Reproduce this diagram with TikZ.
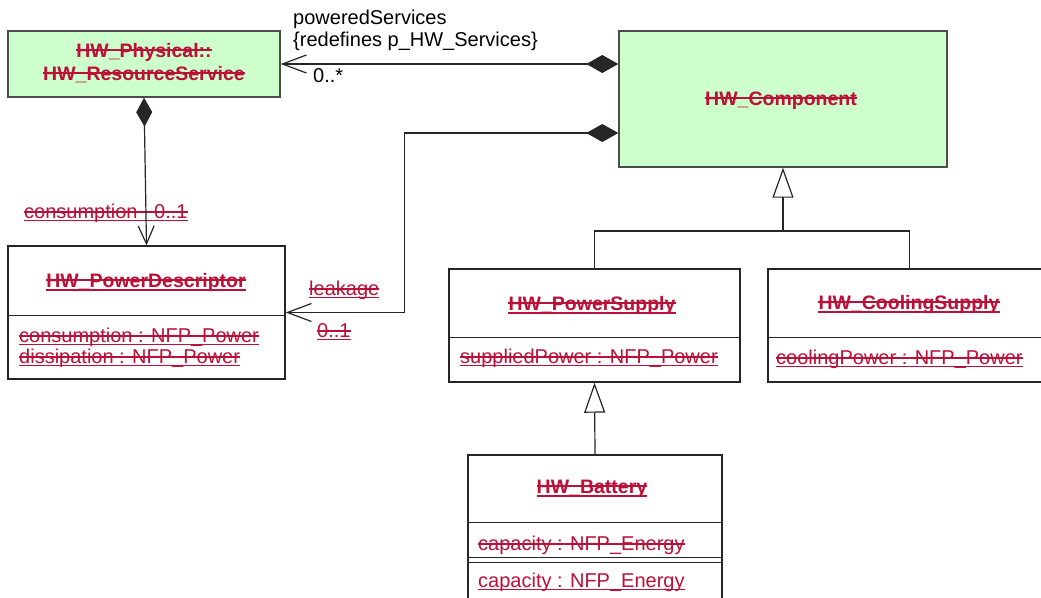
\documentclass[tikz,border=0pt]{standalone}
\usepackage{fontspec}
\setmainfont{Liberation Sans}
\usetikzlibrary{arrows.meta,calc}
\definecolor{rd}{RGB}{187,16,55}
\definecolor{boxgreen}{RGB}{204,255,204}
\tikzset{
  umlbox/.style={draw=black!85, line width=1.4pt, fill=white, inner sep=0pt},
  gbox/.style={umlbox, fill=boxgreen, draw=black!70},
  divl/.style={draw=black!85, line width=1.4pt},
  nm/.style={font=\fontsize{19.5}{22}\selectfont\bfseries, text=rd, inner sep=0pt, anchor=base},
  attr/.style={font=\fontsize{20}{22}\selectfont, text=rd, inner sep=0pt, anchor=base west},
  lbl/.style={font=\fontsize{20}{22}\selectfont, text=black, inner sep=0pt, anchor=base west},
  conn/.style={draw=black!85, line width=1.2pt},
  compo/.style={conn, {Diamond[length=32pt,width=18pt]}-{Straight Barb[length=24pt,width=18pt]}},
  compov/.style={conn, {Diamond[length=29pt,width=16pt]}-{Straight Barb[length=18pt,width=16pt]}},
  gen/.style={conn, -{Triangle[open,length=30pt,width=21pt]}}
}
\newcommand\deco[3]{\draw[rd, line width=#3] ([yshift=#2]#1.base west) -- ([yshift=#2]#1.base east);}
\newcommand\bstrike[1]{\deco{#1}{7pt}{1.8pt}}
\newcommand\bunder[1]{\deco{#1}{-2.5pt}{2pt}}
\newcommand\rstrike[1]{\deco{#1}{6pt}{1.3pt}}
\newcommand\runder[1]{\deco{#1}{-2.5pt}{1.6pt}}
\begin{document}
\begin{tikzpicture}[x=1pt,y=-1pt]
\useasboundingbox (0,0) rectangle (1041,597);
\fill[white] (0,0) rectangle (1041,597);
\clip (0,0) rectangle (1041,597);

% boxes
\node[gbox, minimum width=272pt, minimum height=66pt] (rs) at (144,64) {};
\node[gbox, minimum width=328pt, minimum height=136pt] (comp) at (783,99) {};
\node[umlbox, minimum width=277pt, minimum height=133pt] (pd) at (146.5,312.5) {};
\node[umlbox, minimum width=291pt, minimum height=113pt] (ps) at (594.5,325.5) {};
\node[umlbox, minimum width=283pt, minimum height=113pt] (cs) at (909.5,325.5) {};
\node[umlbox, minimum width=254pt, minimum height=165pt] (bat) at (595,537.5) {};

% dividers
\draw[divl] ([yshift=-70pt]pd.north west) -- ([yshift=-70pt]pd.north east);
\draw[divl] ([yshift=-69pt]ps.north west) -- ([yshift=-69pt]ps.north east);
\draw[divl] ([yshift=-69pt]cs.north west) -- ([yshift=-69pt]cs.north east);
\draw[divl] ([yshift=-68pt]bat.north west) -- ([yshift=-68pt]bat.north east);
\draw[divl] ([yshift=-103pt]bat.north west) -- ([yshift=-103pt]bat.north east);
\draw[divl] ([yshift=-108pt]bat.north west) -- ([yshift=-108pt]bat.north east);

% class names and attributes
\node[nm] (rs1) at (144,57) {HW\_Physical::}; \bstrike{rs1}
\node[nm] (rs2) at (144,80) {HW\_ResourceService}; \bstrike{rs2}
\node[nm] (compn) at (781,105) {HW\_Component}; \bstrike{compn}
\node[nm] (pdn) at (146,287) {HW\_PowerDescriptor}; \bstrike{pdn} \bunder{pdn}
\node[attr] (pda1) at (19,342) {consumption : NFP\_Power}; \rstrike{pda1} \runder{pda1}
\node[attr] (pda2) at (19,363) {dissipation : NFP\_Power}; \rstrike{pda2} \runder{pda2}
\node[nm] (psn) at (592,310) {HW\_PowerSupply}; \bstrike{psn} \bunder{psn}
\node[attr] (psa) at (460,363) {suppliedPower : NFP\_Power}; \rstrike{psa} \runder{psa}
\node[nm] (csn) at (909,309) {HW\_CoolingSupply}; \bstrike{csn} \bunder{csn}
\node[attr] (csa) at (776,364) {coolingPower : NFP\_Power}; \rstrike{csa} \runder{csa}
\node[nm] (batn) at (592,493) {HW\_Battery}; \bstrike{batn} \bunder{batn}
\node[attr] (bata1) at (478,550) {capacity : NFP\_Energy}; \rstrike{bata1}
\node[attr] (bata2) at (478,587) {capacity : NFP\_Energy}; \runder{bata2}

% connector labels
\node[lbl] (lps1) at (293,24) {poweredServices};
\node[lbl] (lps2) at (293,46) {\{redefines p\_HW\_Services\}};
\node[lbl] (mult1) at (313,82) {0..*};
\node[attr] (cons) at (24,218) {consumption\ \ \ 0..1}; \rstrike{cons} \runder{cons}
\node[attr] (leak) at (309,295) {leakage}; \rstrike{leak} \runder{leak}
\node[attr] (mult2) at (317,337) {0..1}; \rstrike{mult2} \runder{mult2}

% connectors
\draw[compo] (comp.west |- rs.east) -- (rs.east);
\draw[compov] (rs.south) -- (pd.north);
\draw[compo] ([yshift=-34pt]comp.west) -- ++(-214,0) |- (pd.east);
\coordinate (hub) at (comp.south |- 0,231);
\draw[gen] (hub) -- (comp.south);
\draw[conn] (ps.north) |- (hub);
\draw[conn] (cs.north) |- (hub);
\draw[gen] (bat.north) -- (ps.south);
\end{tikzpicture}
\end{document}
